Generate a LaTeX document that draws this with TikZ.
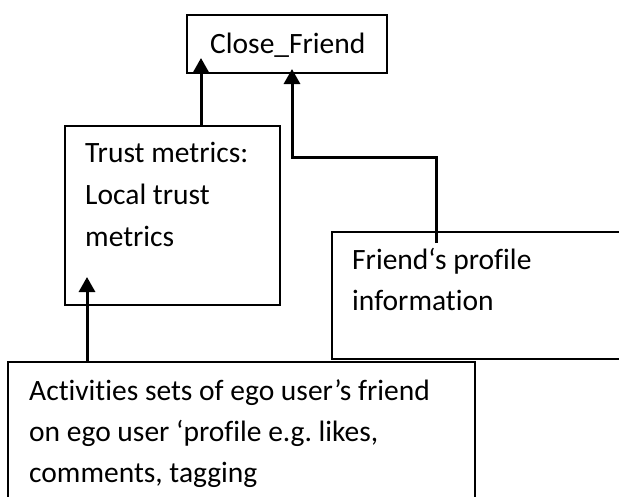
\documentclass[tikz,border=0pt]{standalone}
\usepackage{fontspec}
\setmainfont{Carlito}[Ligatures={NoCommon}]
\usetikzlibrary{arrows.meta}
\tikzset{
  boxframe/.style={draw=black, line width=2pt, fill=none, inner sep=0pt, anchor=north west},
  txt/.style={inner sep=0pt, anchor=base west, font=\fontsize{29.5}{41}\selectfont},
  conn/.style={draw=black, line width=3pt, -{Triangle[length=15pt,width=16pt]}}
}
\begin{document}
\frenchspacing
\begin{tikzpicture}[x=1pt,y=-1pt]
\useasboundingbox (0,0) rectangle (619,496);
\clip (0,0) rectangle (619,496);
\fill[white] (0,0) rectangle (619,496);
% boxes
\node[boxframe, minimum width=200pt, minimum height=58pt] (cf) at (186,14) {};
\node[boxframe, minimum width=215pt, minimum height=179pt] (trust) at (64,125) {};
\node[boxframe, minimum width=300pt, minimum height=127pt] (friend) at (331,231) {};
\node[boxframe, minimum width=467pt, minimum height=150pt] (act) at (7,361) {};
% texts
\node[txt] (cft) at (210,53) {Close\_Friend};
\node[txt] (tr1) at (85,162) {Trust metrics:};
\node[txt] (tr2) at (85,204) {Local trust};
\node[txt] (tr3) at (85,246) {metrics};
\node[txt] (fr1) at (352,269) {Friend‘s profile};
\node[txt] (fr2) at (352,310) {information};
\node[txt] (ac1) at (29,400) {Activities sets of ego user’s friend};
\node[txt] (ac2) at (29,441) {on ego user ‘profile e.g. likes,};
\node[txt] (ac3) at (29,482) {comments, tagging};
% connector end points
\coordinate (tipA) at (201,58);
\coordinate (tipB) at (292,69);
\coordinate (tipC) at (87,277);
\coordinate (startB) at (436,243);
% connectors
\draw[conn] (trust.north west -| tipA) -- (tipA);
\draw[conn] (startB) -- (startB |- 0,157) -- (tipB |- 0,157) -- (tipB);
\draw[conn] (act.north west -| tipC) -- (tipC);
\end{tikzpicture}
\end{document}
